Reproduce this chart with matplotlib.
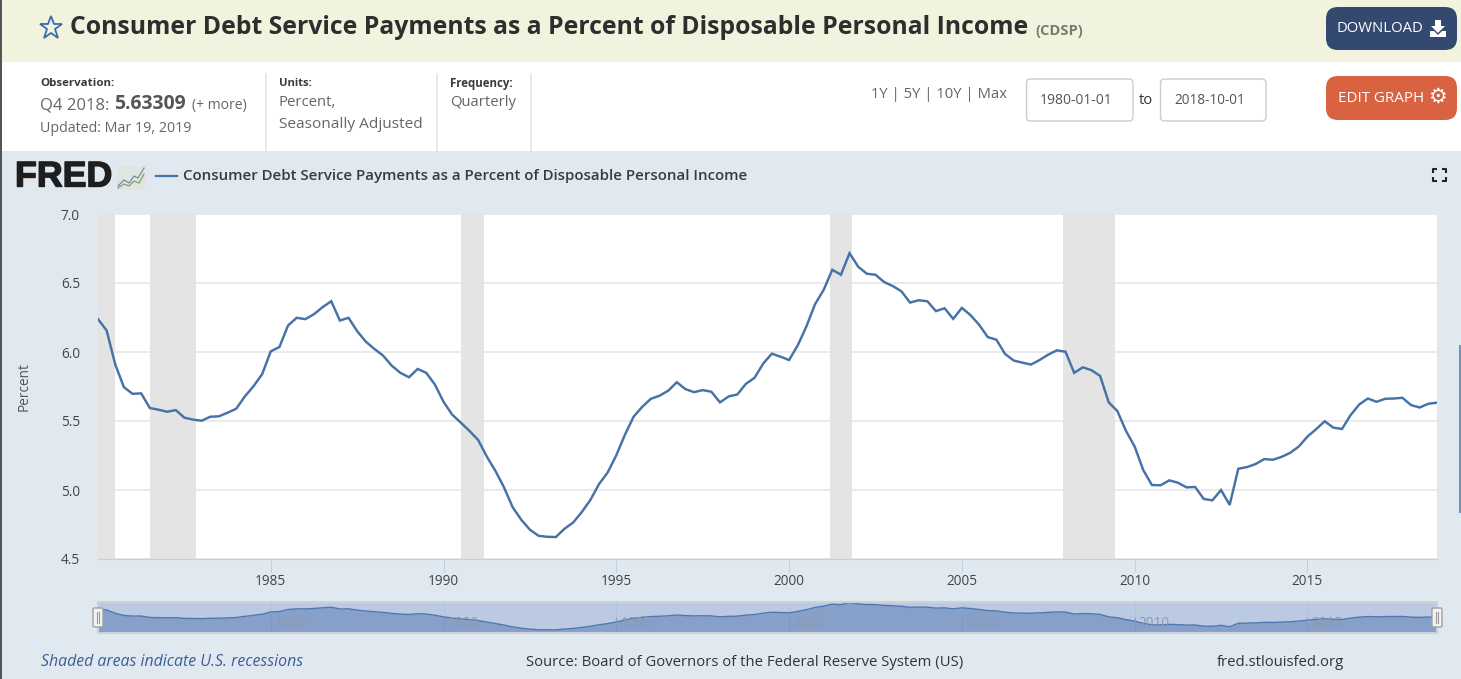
import matplotlib
matplotlib.use('Agg')
import matplotlib.pyplot as plt
from matplotlib.patches import Rectangle, FancyBboxPatch, Polygon
import matplotlib.patheffects as pe
import numpy as np

# quarterly values, 1980Q1 .. 2018Q4
cdsp = [
    6.238, 6.156, 5.909, 5.745, 5.697, 5.700, 5.594, 5.582, 5.567, 5.579, 5.524, 5.510,
    5.502, 5.531, 5.534, 5.560, 5.589, 5.678, 5.752, 5.839, 6.005, 6.036, 6.192, 6.248,
    6.238, 6.274, 6.325, 6.368, 6.228, 6.248, 6.151, 6.075, 6.022, 5.974, 5.901, 5.849,
    5.817, 5.877, 5.849, 5.764, 5.639, 5.546, 5.488, 5.428, 5.363, 5.243, 5.139, 5.019,
    4.875, 4.784, 4.712, 4.668, 4.661, 4.659, 4.719, 4.764, 4.840, 4.928, 5.043, 5.127,
    5.252, 5.401, 5.531, 5.603, 5.661, 5.683, 5.719, 5.781, 5.731, 5.709, 5.724, 5.712,
    5.635, 5.678, 5.692, 5.769, 5.813, 5.916, 5.988, 5.966, 5.942, 6.048, 6.185, 6.346,
    6.450, 6.596, 6.560, 6.716, 6.618, 6.567, 6.560, 6.507, 6.478, 6.440, 6.358, 6.375,
    6.368, 6.296, 6.317, 6.240, 6.320, 6.267, 6.197, 6.108, 6.089, 5.986, 5.938, 5.923,
    5.909, 5.942, 5.981, 6.012, 6.002, 5.849, 5.889, 5.868, 5.827, 5.635, 5.572, 5.428,
    5.315, 5.144, 5.036, 5.034, 5.070, 5.053, 5.019, 5.022, 4.935, 4.925, 5.000, 4.892,
    5.154, 5.166, 5.188, 5.224, 5.219, 5.240, 5.269, 5.315, 5.387, 5.440, 5.498, 5.452,
    5.442, 5.543, 5.620, 5.663, 5.639, 5.661, 5.663, 5.668, 5.615, 5.598, 5.625, 5.633,
]
years = [1980 + i / 4 for i in range(len(cdsp))]
recession_start = [1980.0, 1981.5, 1990.5, 2001.17, 2007.92]
recession_end = [1980.5, 1982.83, 1991.17, 2001.83, 2009.42]
year_ticks = [1985, 1990, 1995, 2000, 2005, 2010, 2015]
value_ticks = [4.5, 5.0, 5.5, 6.0, 6.5, 7.0]

W, H = 1461, 679
LINE = '#4572A7'
PANEL = '#E1E9F0'

plt.rcParams['font.family'] = ['Open Sans', 'DejaVu Sans']
fig = plt.figure(figsize=(W / 100, H / 100), dpi=100, facecolor='white')
renderer = fig.canvas.get_renderer()


def box(x0, y0, x1, y1):
    """figure axes rectangle from pixel coordinates, y counted from the top"""
    return [x0 / W, 1 - y1 / H, (x1 - x0) / W, (y1 - y0) / H]


# page furniture lives in one pixel-coordinate axes
bg = fig.add_axes([0, 0, 1, 1], zorder=0)
bg.set_xlim(0, W)
bg.set_ylim(H, 0)
bg.axis('off')


def label(x0, x1, y, s, size=9, **kw):
    # scale the font so the string spans x0..x1
    t = bg.text(x0, y, s, va='center', ha='left', fontsize=size, **kw)
    t.set_fontsize(size * (x1 - x0) / t.get_window_extent(renderer).width)
    return t


def button(x0, y0, x1, y1, color, edge='none', r=12):
    bg.add_patch(FancyBboxPatch((x0 + r, y0 + r), x1 - x0 - 2 * r, y1 - y0 - 2 * r,
                                boxstyle=f'round,pad={r},rounding_size={r}',
                                fc=color, ec=edge, lw=1))


bg.add_patch(Rectangle((0, 0), W, 62, fc='#F2F3DE', ec='none'))
bg.add_patch(Rectangle((0, 151), W, H - 151, fc=PANEL, ec='none'))
bg.add_patch(Rectangle((0, 0), 2, H, fc='#555555', ec='none'))
bg.add_patch(Rectangle((1459, 345), 2, 168, fc='#7A8FB5', ec='none'))
for sx in [265.5, 436.5, 530.5]:
    bg.plot([sx, sx], [74, 151], color='#DFE7EE', lw=1.2)

# title row
bg.plot([51], [28], marker='*', ms=17, mfc='none', mec='#3A6BAF', mew=1.3)
label(70, 1029, 28, 'Consumer Debt Service Payments as a Percent of Disposable Personal Income',
      size=16, weight='bold', color='#2E2E2E')
label(1035, 1083, 31, '(CDSP)', size=9, weight='bold', color='#7A7A6E')
button(1326, 7, 1457, 50, '#34496F')
label(1337, 1424, 29, 'DOWNLOAD', size=10, color='white')
bg.add_patch(Polygon([(1435, 20), (1441, 20), (1441, 26), (1445, 26), (1438, 33), (1431, 26), (1435, 26)],
                     fc='white', ec='none'))
bg.add_patch(Polygon([(1430, 31), (1434, 31), (1438, 35), (1442, 31), (1446, 31), (1446, 37), (1430, 37)],
                     fc='white', ec='none'))

# info row
GREY = '#666666'
DARK = '#3A3A3A'
label(40, 114, 83, 'Observation:', weight='bold', color=DARK)
label(40, 109, 105, 'Q4 2018:', color=GREY)
label(114, 186, 104, '5.63309', weight='bold', color='#555555')
label(192, 247, 105, '(+ more)', color=GREY)
label(40, 192, 128, 'Updated: Mar 19, 2019', color=GREY)
label(279, 312, 83, 'Units:', weight='bold', color=DARK)
label(279, 337, 102, 'Percent,', color=GREY)
label(279, 423, 124, 'Seasonally Adjusted', color=GREY)
label(450, 513, 83, 'Frequency:', weight='bold', color=DARK)
label(450, 517, 102, 'Quarterly', color=GREY)
label(871, 1007, 95, '1Y | 5Y | 10Y | Max', color=GREY)
button(1026.5, 79, 1133, 121, 'white', edge='#CCCCCC', r=4)
button(1160.5, 79, 1266, 121, 'white', edge='#CCCCCC', r=4)
label(1040, 1112, 100, '1980-01-01', color='#555555')
label(1139, 1153, 100, 'to', color='#333333')
label(1174, 1245, 100, '2018-10-01', color='#555555')
button(1326, 76, 1457, 120, '#D96240')
label(1338, 1424, 98, 'EDIT GRAPH', size=10, color='white')
bg.text(1437.5, 97, '\u2699', ha='center', va='center', fontsize=15, color='white', family='DejaVu Sans')

# FRED logo and legend row
logo = label(15, 112, 177, 'FRED', size=26, weight='bold', color='#1E1E1E', family='Liberation Sans')
logo.set_path_effects([pe.withStroke(linewidth=1.0, foreground='#1E1E1E')])
bg.add_patch(Rectangle((117, 166), 28, 24, fc='#E2E4E4', ec='none'))
bg.plot([118, 124, 129, 134, 138, 144], [186, 180, 183, 176, 178, 168], color='#6E8FA8', lw=0.9)
bg.plot([118, 124, 129, 134, 139, 144], [188, 184, 186, 181, 183, 174], color='#7FA35A', lw=0.9)
bg.plot([156, 177], [176, 176], color=LINE, lw=1.6)
label(183, 747, 176, 'Consumer Debt Service Payments as a Percent of Disposable Personal Income',
      weight='semibold', color='#3A3A3A')
for cx, cy, dx, dy in [(1433, 169, 1, 1), (1446, 169, -1, 1), (1433, 181, 1, -1), (1446, 181, -1, -1)]:
    bg.plot([cx + 4 * dx, cx, cx], [cy, cy, cy + 4 * dy], color='#222222', lw=1.5, solid_capstyle='butt')

# footer
label(41, 303, 662, 'Shaded areas indicate U.S. recessions', style='italic', color='#3E5C9A')
label(526, 966, 663, 'Source: Board of Governors of the Federal Reserve System (US)', color='#333333')
label(1217, 1345, 663, 'fred.stlouisfed.org', color='#333333')

# main chart
ax = fig.add_axes(box(98, 214, 1437, 559), zorder=1)
ax.set_xlim(1980, 2018.75)
ax.set_ylim(4.5, 7.0)
ax.set_axisbelow(True)
ax.grid(axis='y', color='#E6E6E6', lw=1.2)
for r0, r1 in zip(recession_start, recession_end):
    ax.axvspan(r0, r1, color='#E4E4E4', lw=0, zorder=1)
ax.plot(years, cdsp, color=LINE, lw=1.75, zorder=3, solid_joinstyle='miter')
for side in ['top', 'left', 'right']:
    ax.spines[side].set_visible(False)
ax.spines['bottom'].set_color('#C0D0E0')
ax.set_xticks(year_ticks)
ax.set_yticks(value_ticks)
ax.set_yticklabels([f'{v:.1f}' for v in value_ticks])
ax.tick_params(axis='x', length=9.4, width=0.8, color='#C0D0E0', labelsize=9.8, labelcolor='#444444', pad=1.5)
ax.tick_params(axis='y', length=0, labelsize=9.8, labelcolor='#444444', pad=13)
ax.set_ylabel('Percent', fontsize=9.8, color='#555555')
ax.yaxis.set_label_coords(-0.0493, 0.5)

# navigator strip under the chart
nav = fig.add_axes(box(98, 602, 1437, 633), zorder=1, facecolor='#BBC9E2')
nav.set_xlim(1980, 2018.75)
nav.set_ylim(4.42, 6.76)
nav.fill_between(years, cdsp, 4.42, color='#87A0CA', lw=0)
nav.plot(years, cdsp, color='#4F78B0', lw=1)
nav.set_xticks([])
nav.set_yticks([])
for side in nav.spines:
    nav.spines[side].set_color('#CDD2DA')
    nav.spines[side].set_linewidth(1.5)
for yr in year_ticks:
    nav.axvline(yr, color='#B4C3DC', lw=0.8, zorder=0)
    nav.axvline(yr, ymax=0.5, color='#7F99C4', lw=0.8, zorder=2)
    nav.annotate(str(yr), (yr, 0.3), xycoords=('data', 'axes fraction'), xytext=(3, 0),
                 textcoords='offset points', fontsize=9.8, color='#8E99AE', va='center', zorder=3)

# navigator handles sit on top of the strip
top = fig.add_axes([0, 0, 1, 1], zorder=2, facecolor='none')
top.set_xlim(0, W)
top.set_ylim(H, 0)
top.axis('off')
for hx in [98, 1437]:
    top.add_patch(FancyBboxPatch((hx - 3, 610), 6, 15, boxstyle='round,pad=2,rounding_size=1.5',
                                 fc='#F2F2F2', ec='#A0A0A0', lw=1))
    top.plot([hx - 1.2, hx - 1.2], [612, 623], color='#999999', lw=0.8)
    top.plot([hx + 1.2, hx + 1.2], [612, 623], color='#999999', lw=0.8)

fig.savefig('out.png', dpi=100, facecolor='white')
